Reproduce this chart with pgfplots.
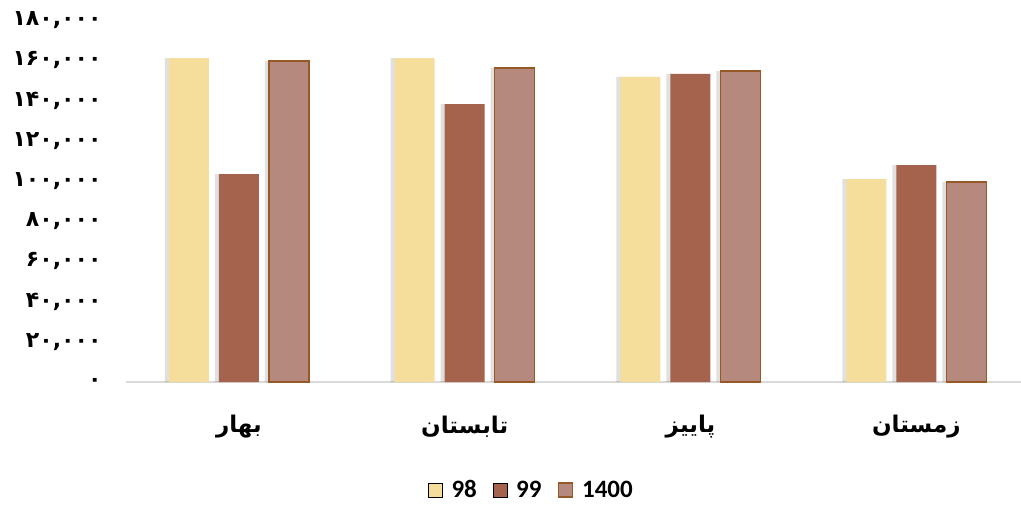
\documentclass[border=0pt]{standalone}
\usepackage{fontspec}
\usepackage{pgfplots}
\pgfplotsset{compat=1.18}
\TeXXeTstate=1
\setmainfont{Carlito}
\newfontfamily\fa[Script=Arabic]{DejaVu Sans}
\definecolor{cA}{RGB}{245,222,155}
\definecolor{cB}{RGB}{165,99,77}
\definecolor{cC}{RGB}{181,137,126}
\definecolor{cCb}{RGB}{150,88,36}
\definecolor{base}{RGB}{217,217,217}
\begin{document}
\begin{tikzpicture}[x=1pt,y=1pt]
\path[use as bounding box] (0,0) rectangle (1021,504);
\begin{axis}[
  at={(126pt,122pt)}, anchor=south west,
  scale only axis, width=895pt, height=362pt,
  xmin=-0.5, xmax=3.4637, ymin=0, ymax=180000,
  enlargelimits=false,
  scaled y ticks=false,
  axis x line*=bottom, axis y line*=left,
  x axis line style={draw=base, line width=2pt},
  y axis line style={draw=none},
  major tick length=0pt,
  tick style={draw=none},
  xtick={0,1,2,3},
  xticklabels={{\beginR بهار\endR},{\beginR تابستان\endR},{\beginR پاییز\endR},{\beginR زمستان\endR}},
  xticklabel style={font=\fa\bfseries\fontsize{23}{23}\selectfont, anchor=center, yshift=-45pt},
  ytick={0,20000,40000,60000,80000,100000,120000,140000,160000,180000},
  yticklabels={۰,{۲۰,۰۰۰},{۴۰,۰۰۰},{۶۰,۰۰۰},{۸۰,۰۰۰},{۱۰۰,۰۰۰},{۱۲۰,۰۰۰},{۱۴۰,۰۰۰},{۱۶۰,۰۰۰},{۱۸۰,۰۰۰}},
  yticklabel style={font=\fa\bfseries\fontsize{22}{22}\selectfont, anchor=east, xshift=-21pt},
  ybar, bar width=40pt,
  legend style={at={(0.453,-0.298)}, anchor=center, draw=none, fill=none,
    legend columns=3, font=\bfseries\fontsize{25}{25}\selectfont,
    /tikz/every odd column/.append style={column sep=7pt},
    /tikz/every even column/.append style={column sep=14pt}},
  legend image code/.code={\draw[#1] (0pt,-7pt) rectangle (14pt,7pt);},
]
% soft shadows
\addplot[forget plot, fill=black, draw=none, opacity=0.12, bar shift=-54pt] coordinates {(0,161100) (1,161100) (2,151700) (3,100900)};
\addplot[forget plot, fill=black, draw=none, opacity=0.12, bar shift=-4pt] coordinates {(0,103400) (1,138200) (2,153200) (3,107900)};
\addplot[forget plot, fill=black, draw=none, opacity=0.12, bar shift=46pt] coordinates {(0,159600) (1,156100) (2,154600) (3,99450)};
% bars
\addplot[fill=cA, draw=none, bar shift=-50pt] coordinates {(0,161100) (1,161100) (2,151700) (3,100900)};
\addplot[fill=cB, draw=none, bar shift=0pt] coordinates {(0,103400) (1,138200) (2,153200) (3,107900)};
\addplot[fill=cC, draw=cCb, line width=1.5pt, bar shift=50pt] coordinates {(0,159600) (1,156100) (2,154600) (3,99450)};
\legend{98,99,1400}
\end{axis}
\end{tikzpicture}
\end{document}
